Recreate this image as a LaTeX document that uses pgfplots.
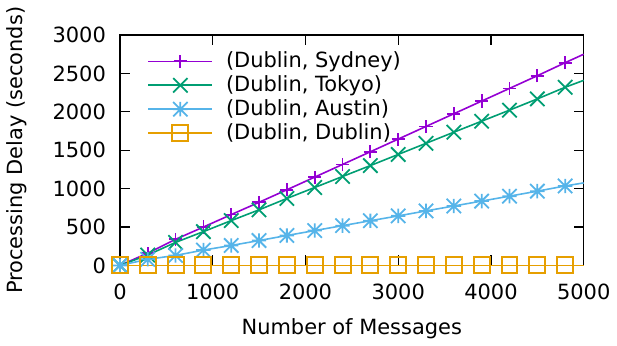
\documentclass[border=0pt]{standalone}
\usepackage{fontspec}
\setmainfont{DejaVu Sans}
\usepackage{pgfplots}
\pgfplotsset{compat=1.18}
\definecolor{gpPurple}{HTML}{9400D3}
\definecolor{gpGreen}{HTML}{009E73}
\definecolor{gpBlue}{HTML}{56B4E9}
\definecolor{gpOrange}{HTML}{E69F00}
\pgfdeclareplotmark{gpstar}{%
  \pgfpathmoveto{\pgfqpoint{-\pgfplotmarksize}{0pt}}\pgfpathlineto{\pgfqpoint{\pgfplotmarksize}{0pt}}%
  \pgfpathmoveto{\pgfqpoint{0pt}{-\pgfplotmarksize}}\pgfpathlineto{\pgfqpoint{0pt}{\pgfplotmarksize}}%
  \pgfpathmoveto{\pgfqpoint{-\pgfplotmarksize}{-\pgfplotmarksize}}\pgfpathlineto{\pgfqpoint{\pgfplotmarksize}{\pgfplotmarksize}}%
  \pgfpathmoveto{\pgfqpoint{-\pgfplotmarksize}{\pgfplotmarksize}}\pgfpathlineto{\pgfqpoint{\pgfplotmarksize}{-\pgfplotmarksize}}%
  \pgfusepathqstroke}
\pgfdeclareplotmark{gpx}{%
  \pgfpathmoveto{\pgfqpoint{-\pgfplotmarksize}{-\pgfplotmarksize}}\pgfpathlineto{\pgfqpoint{\pgfplotmarksize}{\pgfplotmarksize}}%
  \pgfpathmoveto{\pgfqpoint{-\pgfplotmarksize}{\pgfplotmarksize}}\pgfpathlineto{\pgfqpoint{\pgfplotmarksize}{-\pgfplotmarksize}}%
  \pgfusepathqstroke}
\pgfdeclareplotmark{gpplus}{%
  \pgfpathmoveto{\pgfqpoint{-\pgfplotmarksize}{0pt}}\pgfpathlineto{\pgfqpoint{\pgfplotmarksize}{0pt}}%
  \pgfpathmoveto{\pgfqpoint{0pt}{-\pgfplotmarksize}}\pgfpathlineto{\pgfqpoint{0pt}{\pgfplotmarksize}}%
  \pgfusepathqstroke}
\pgfdeclareplotmark{gpsquare}{%
  \pgfpathrectangle{\pgfqpoint{-\pgfplotmarksize}{-\pgfplotmarksize}}{\pgfqpoint{2\pgfplotmarksize}{2\pgfplotmarksize}}%
  \pgfusepathqstroke}
\begin{document}
\begin{tikzpicture}
\begin{axis}[
  scale only axis,
  width=232.5pt, height=115.5pt,
  xmin=0, xmax=5000, ymin=0, ymax=3000,
  xtick={0,1000,2000,3000,4000,5000},
  ytick={0,500,1000,1500,2000,2500,3000},
  tick align=inside,
  major tick length=5pt,
  axis line style={line width=0.75pt, black},
  every tick/.style={black, line width=0.6pt},
  tick label style={font=\fontsize{10.5}{12}\selectfont},
  label style={font=\fontsize{10.5}{12}\selectfont},
  /pgf/number format/assume math mode=true,
  /pgf/number format/1000 sep={},
  scaled ticks=false,
  xlabel={Number of Messages},
  ylabel={Processing Delay (seconds)},
  xticklabel style={yshift=-6pt},
  yticklabel style={xshift=-3.5pt},
  xlabel style={yshift=-2.5pt},
  ylabel style={yshift=6pt},
  clip=false,
  legend cell align=left,
  legend style={draw=none, fill=none, at={(0.046,0.963)}, anchor=north west,
    font=\fontsize{10.5}{12}\selectfont, row sep=-1.5pt, column sep=4.5pt},
  legend image code/.code={\draw[mark indices={2}] plot coordinates {(0pt,0pt) (16pt,0pt) (32pt,0pt)};},
  every axis plot/.append style={line width=0.8pt, mark indices={1,2,...,17}},
]
\addplot[gpPurple, mark=gpplus, mark size=3.3pt, mark options={line width=0.9pt}] coordinates {
(0,0) (300,160) (600,340) (900,500) (1200,662) (1500,822) (1800,985) (2100,1150) (2400,1315) (2700,1480) (3000,1645) (3300,1810) (3600,1975) (3900,2140) (4200,2305) (4500,2470) (4800,2640) (5000,2750)};
\addlegendentry{(Dublin, Sydney)}
\addplot[gpGreen, mark=gpx, mark size=3.6pt, mark options={line width=0.9pt}] coordinates {
(0,0) (300,135) (600,300) (900,440) (1200,584) (1500,724) (1800,872) (2100,1015) (2400,1158) (2700,1300) (3000,1445) (3300,1590) (3600,1735) (3900,1878) (4200,2022) (4500,2168) (4800,2320) (5000,2410)};
\addlegendentry{(Dublin, Tokyo)}
\addplot[gpBlue, mark=gpstar, mark size=3.6pt, mark options={line width=0.9pt}] coordinates {
(0,0) (300,80) (600,130) (900,200) (1200,260) (1500,324) (1800,390) (2100,454) (2400,518) (2700,582) (3000,645) (3300,710) (3600,774) (3900,838) (4200,902) (4500,967) (4800,1035) (5000,1075)};
\addlegendentry{(Dublin, Austin)}
\addplot[gpOrange, mark=gpsquare, mark size=4pt, mark options={line width=1pt}] coordinates {
(0,0) (300,0) (600,0) (900,0) (1200,0) (1500,0) (1800,0) (2100,0) (2400,0) (2700,0) (3000,0) (3300,0) (3600,0) (3900,0) (4200,0) (4500,0) (4800,0) (5000,0)};
\addlegendentry{(Dublin, Dublin)}
\end{axis}
\end{tikzpicture}
\end{document}
